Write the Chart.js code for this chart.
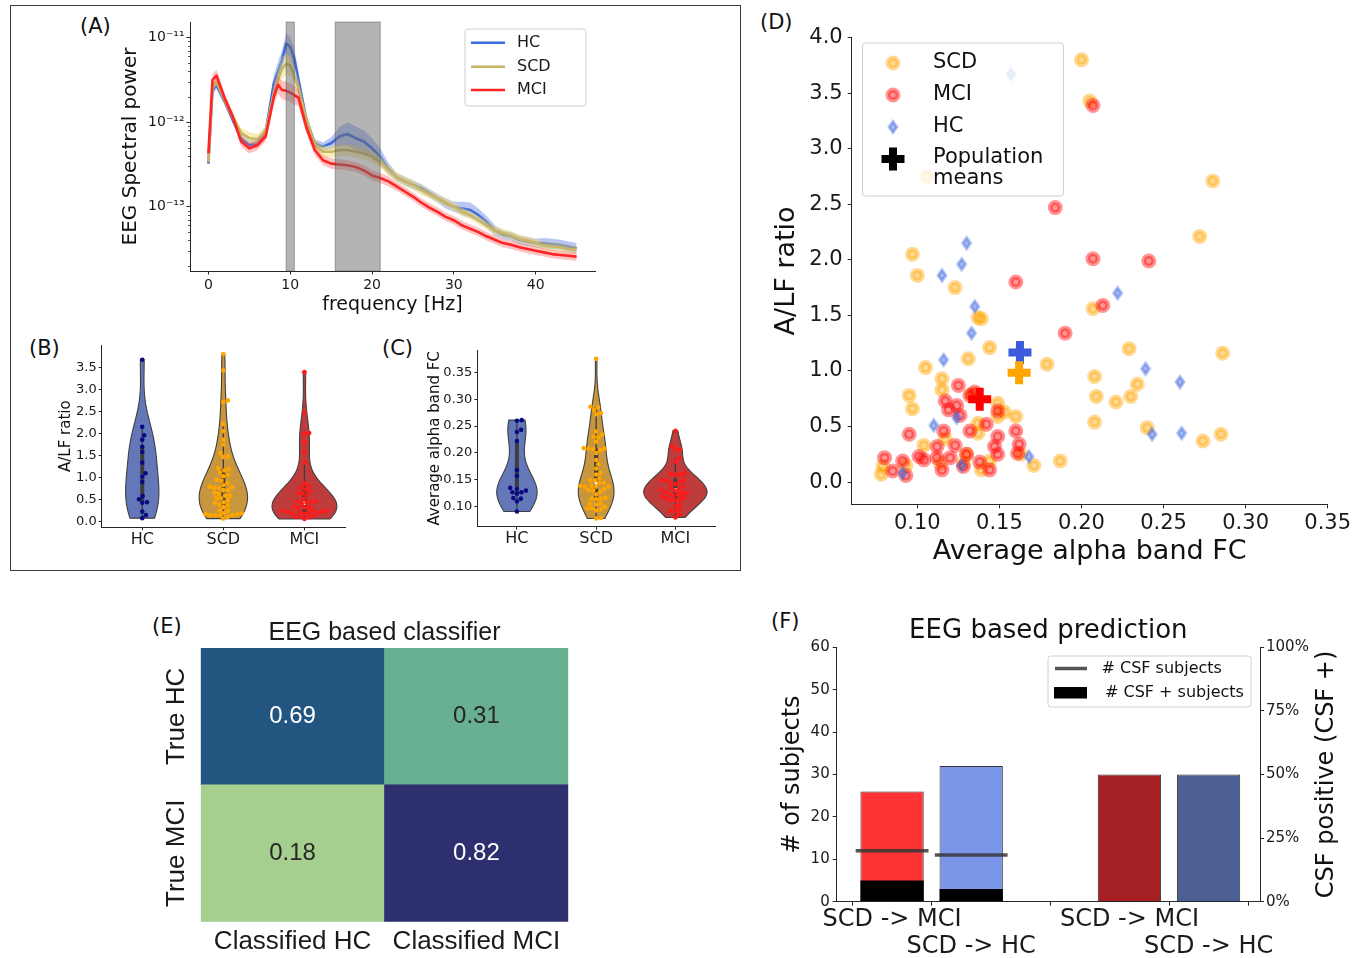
<!DOCTYPE html>
<html lang="en">
<head>
<meta charset="utf-8">
<title>EEG markers: HC / SCD / MCI</title>
<script src="https://cdn.jsdelivr.net/npm/chart.js@4.4.1/dist/chart.umd.min.js"></script>
<style>
  html, body { margin: 0; padding: 0; background: #fff; }
  body { position: relative; width: 1367px; height: 958px; overflow: hidden; font-family: 'DejaVu Sans', sans-serif; }
  canvas { position: absolute; }
  .frame { position: absolute; border: 1px solid #3a3a3a; box-sizing: border-box; }
  .tag { position: absolute; font-size: 21px; line-height: 1; color: #111; }
</style>
</head>
<body>
<div class="frame" style="left:10px; top:5px; width:731px; height:566px"></div>
<div class="tag" style="left:80px; top:16px">(A)</div>
<div class="tag" style="left:29px; top:338px">(B)</div>
<div class="tag" style="left:382px; top:338px">(C)</div>
<div class="tag" style="left:760px; top:12px">(D)</div>
<div class="tag" style="left:152px; top:616px">(E)</div>
<div class="tag" style="left:771px; top:611px">(F)</div>
<canvas id="spectra"></canvas>
<canvas id="ratioViolin"></canvas>
<canvas id="fcViolin"></canvas>
<canvas id="scatter"></canvas>
<canvas id="confusion"></canvas>
<canvas id="prediction"></canvas>
<script>
// ---------- (A) spectral power, log10 values ----------
const freqs = [0, 0.5, 1, 2, 3, 4, 5, 6, 7, 8, 8.5, 9, 9.5, 10, 10.5, 11,
  12, 13, 14, 15, 16, 17, 18, 19, 20, 21, 22, 23, 24, 25, 26, 27, 28, 29, 30,
  31, 32, 33, 34, 35, 36, 37, 38, 39, 40, 41, 42, 43, 44, 45];
const logHC = [-12.49, -11.62, -11.56, -11.76, -11.98, -12.19, -12.27, -12.25, -12.11, -11.54, -11.41, -11.27, -11.07, -11.11, -11.25, -11.50,
  -11.98, -12.25, -12.29, -12.25, -12.17, -12.14, -12.19, -12.23, -12.31, -12.41, -12.55, -12.65, -12.70, -12.74, -12.78, -12.84, -12.90, -12.96, -13.00,
  -13.02, -13.04, -13.10, -13.18, -13.28, -13.33, -13.35, -13.39, -13.41, -13.43, -13.43, -13.44, -13.45, -13.47, -13.49];
const logSCD = [-12.47, -11.58, -11.52, -11.74, -11.94, -12.13, -12.19, -12.20, -12.10, -11.66, -11.50, -11.37, -11.31, -11.33, -11.45, -11.60,
  -11.98, -12.27, -12.35, -12.35, -12.33, -12.33, -12.35, -12.37, -12.41, -12.47, -12.57, -12.65, -12.70, -12.74, -12.80, -12.85, -12.90, -12.95, -13.00,
  -13.06, -13.10, -13.16, -13.22, -13.28, -13.31, -13.34, -13.38, -13.40, -13.43, -13.46, -13.47, -13.48, -13.50, -13.51];
const logMCI = [-12.37, -11.50, -11.45, -11.72, -11.94, -12.23, -12.31, -12.27, -12.17, -11.70, -11.56, -11.62, -11.63, -11.65, -11.68, -11.71,
  -12.07, -12.33, -12.45, -12.49, -12.50, -12.51, -12.53, -12.57, -12.63, -12.66, -12.70, -12.76, -12.82, -12.88, -12.95, -13.01, -13.06, -13.12, -13.16,
  -13.22, -13.26, -13.30, -13.35, -13.39, -13.43, -13.45, -13.48, -13.50, -13.52, -13.54, -13.56, -13.57, -13.58, -13.59];
// half width of the shaded error band, in decades
const bandHC = [0.03, 0.05, 0.05, 0.04, 0.04, 0.05, 0.05, 0.05, 0.06, 0.10, 0.12, 0.12, 0.12, 0.12, 0.12, 0.10,
  0.06, 0.05, 0.05, 0.07, 0.11, 0.14, 0.14, 0.13, 0.12, 0.10, 0.07, 0.05, 0.05, 0.05, 0.05, 0.05, 0.05, 0.06, 0.06,
  0.08, 0.09, 0.08, 0.07, 0.06, 0.05, 0.05, 0.05, 0.05, 0.05, 0.06, 0.06, 0.06, 0.06, 0.06];
const bandSCD = [0.03, 0.05, 0.05, 0.05, 0.05, 0.06, 0.07, 0.06, 0.05, 0.10, 0.12, 0.13, 0.13, 0.12, 0.11, 0.10,
  0.07, 0.07, 0.07, 0.07, 0.07, 0.07, 0.07, 0.07, 0.07, 0.07, 0.06, 0.06, 0.06, 0.06, 0.06, 0.05, 0.05, 0.05, 0.05,
  0.05, 0.05, 0.05, 0.05, 0.05, 0.05, 0.05, 0.05, 0.05, 0.05, 0.05, 0.05, 0.05, 0.05, 0.05];
const bandMCI = [0.03, 0.07, 0.07, 0.06, 0.06, 0.06, 0.06, 0.06, 0.06, 0.09, 0.10, 0.11, 0.11, 0.11, 0.11, 0.10,
  0.07, 0.06, 0.06, 0.06, 0.06, 0.06, 0.06, 0.06, 0.06, 0.06, 0.06, 0.05, 0.05, 0.05, 0.05, 0.05, 0.05, 0.05, 0.05,
  0.05, 0.05, 0.05, 0.05, 0.05, 0.05, 0.05, 0.05, 0.05, 0.05, 0.05, 0.05, 0.05, 0.05, 0.05];
const bandSpans = [[9.5, 10.5], [15.5, 21]];
const freqTicks = [0, 10, 20, 30, 40];
const powerTicks = [1e-13, 1e-12, 1e-11];

// ---------- (B)(C)(D) subjects: alpha band FC and A/LF ratio ----------
const hcFC  = [0.157, 0.130, 0.127, 0.115, 0.222, 0.135, 0.133, 0.116, 0.239, 0.260, 0.110, 0.124, 0.243, 0.261, 0.168, 0.127, 0.091];
const hcALF = [3.67, 2.15, 1.96, 1.86, 1.70, 1.58, 1.34, 1.10, 1.02, 0.90, 0.51, 0.58, 0.43, 0.44, 0.23, 0.15, 0.08];
const scdFC  = [0.200, 0.205, 0.106, 0.280, 0.272, 0.097, 0.100, 0.123, 0.207, 0.137, 0.139, 0.144, 0.229, 0.286, 0.131, 0.179,
  0.105, 0.208, 0.115, 0.234, 0.115, 0.209, 0.230, 0.095, 0.221, 0.133, 0.097, 0.149, 0.153, 0.160, 0.149, 0.208, 0.240,
  0.137, 0.137, 0.285, 0.274, 0.104, 0.117, 0.130, 0.187, 0.171, 0.144, 0.114, 0.078, 0.079, 0.093, 0.139, 0.163, 0.128, 0.375];
const scdALF = [3.80, 3.43, 2.75, 2.71, 2.21, 2.05, 1.86, 1.75, 1.56, 1.48, 1.47, 1.21, 1.20, 1.16, 1.11, 1.06,
  1.03, 0.95, 0.93, 0.88, 0.83, 0.77, 0.77, 0.78, 0.72, 0.79, 0.66, 0.71, 0.63, 0.59, 0.59, 0.54, 0.49,
  0.53, 0.44, 0.43, 0.37, 0.33, 0.39, 0.25, 0.19, 0.15, 0.19, 0.17, 0.07, 0.14, 0.15, 0.11, 0.25, 0.17, 0.15];
const mciFC  = [0.207, 0.184, 0.207, 0.241, 0.160, 0.213, 0.190, 0.125, 0.135, 0.132, 0.117, 0.124, 0.119, 0.149, 0.126,
  0.095, 0.116, 0.132, 0.142, 0.160, 0.149, 0.147, 0.162, 0.123, 0.112, 0.149, 0.161, 0.130, 0.080, 0.091,
  0.101, 0.104, 0.112, 0.120, 0.138, 0.085, 0.093, 0.115, 0.128, 0.144];
const mciALF = [3.39, 2.47, 2.01, 1.99, 1.80, 1.59, 1.34, 0.87, 0.81, 0.78, 0.73, 0.69, 0.65, 0.64, 0.60,
  0.43, 0.46, 0.46, 0.52, 0.46, 0.41, 0.32, 0.34, 0.33, 0.32, 0.25, 0.26, 0.25, 0.22, 0.19,
  0.23, 0.20, 0.22, 0.22, 0.18, 0.10, 0.06, 0.11, 0.14, 0.11];
const meanFC  = [0.1625, 0.162, 0.138];   // HC, SCD, MCI
const meanALF = [1.167, 0.983, 0.745];
const groupNames = ['HC', 'SCD', 'MCI'];
const ratioTicks = [0, 0.5, 1, 1.5, 2, 2.5, 3, 3.5];
const fcTicks = [0.10, 0.15, 0.20, 0.25, 0.30, 0.35];
const scatterYTicks = [0, 0.5, 1, 1.5, 2, 2.5, 3, 3.5, 4];

// ---------- (E) confusion matrix ----------
const cmCols = ['Classified HC', 'Classified MCI'];
const cmRows = ['True HC', 'True MCI'];
const cmTrueHC = [0.69, 0.31];
const cmTrueMCI = [0.18, 0.82];

// ---------- (F) prediction ----------
const predLabels = ['SCD -> MCI', 'SCD -> HC'];
const predX = [0, 1];
const predCounts = [26, 32];
const csfCounts = [12, 11];
const csfPosCounts = [5, 3];
const pctX = [3, 4];
const csfPosPercent = [50, 50];
const countTicks = [0, 10, 20, 30, 40, 50, 60];
const pctTicks = [0, 25, 50, 75, 100];

// ---------- shared look ----------
Chart.defaults.font.family = "'DejaVu Sans', sans-serif";
Chart.defaults.color = '#1a1a1a';
Chart.defaults.animation = false;
Chart.defaults.responsive = false;
Chart.defaults.events = [];
Chart.defaults.layout.autoPadding = false;
Chart.defaults.plugins.legend.display = false;
Chart.defaults.plugins.tooltip.enabled = false;

const ink = '#262626';
const spine = { display: true, color: ink, width: 1 };
const tickGrid = len => ({ display: true, drawOnChartArea: false, drawTicks: true, tickLength: len, color: ink });
const fixedTicks = values => s => { s.ticks = values.map(v => ({ value: v })); };
const pairs = (xs, ys) => xs.map((x, i) => ({ x, y: ys[i] }));

function makeCanvas(id, b) {
  const c = document.getElementById(id);
  c.width = b.w; c.height = b.h;
  c.style.left = b.x + 'px'; c.style.top = b.y + 'px';
  return c;
}

function legendFrame(ctx, x0, y0, x1, y1) {
  ctx.beginPath();
  ctx.roundRect(x0, y0, x1 - x0, y1 - y0, 3);
  ctx.fillStyle = 'rgba(255,255,255,0.8)';
  ctx.fill();
  ctx.lineWidth = 1;
  ctx.strokeStyle = '#cfcfcf';
  ctx.stroke();
}

const panels = {
  A: { x: 115, y: 10, w: 505, h: 310 },
  B: { x: 53, y: 335, w: 302, h: 220 },
  C: { x: 422, y: 335, w: 303, h: 220 },
  D: { x: 767, y: 20, w: 595, h: 552 },
  E: { x: 140, y: 616, w: 440, h: 344 },
  F: { x: 774, y: 616, w: 588, h: 346 }
};

// ---------- (A) ----------
const lineHC = '#3d6ae0', lineSCD = '#c9b563', lineMCI = '#ff2525';
function spectrumSets(name, vals, band, line, fill) {
  return [
    { label: name, data: freqs.map((f, i) => ({ x: f, y: 10 ** vals[i] })), showLine: true,
      borderColor: line, borderWidth: 2.6, borderJoinStyle: 'round', pointRadius: 0, fill: false },
    { label: name + ' upper', data: freqs.map((f, i) => ({ x: f, y: 10 ** (vals[i] + band[i]) })), showLine: true,
      borderColor: 'rgba(0,0,0,0)', borderWidth: 0, pointRadius: 0, backgroundColor: fill, fill: '+1' },
    { label: name + ' lower', data: freqs.map((f, i) => ({ x: f, y: 10 ** (vals[i] - band[i]) })), showLine: true,
      borderColor: 'rgba(0,0,0,0)', borderWidth: 0, pointRadius: 0, fill: false }
  ];
}
const supDigits = { '-': '\u207B', '0': '\u2070', '1': '\u00B9', '2': '\u00B2', '3': '\u00B3', '4': '\u2074',
  '5': '\u2075', '6': '\u2076', '7': '\u2077', '8': '\u2078', '9': '\u2079' };
const powLabel = v => '10' + String(Math.round(Math.log10(v))).split('').map(c => supDigits[c]).join('');

const spectraExtras = {
  id: 'spectraExtras',
  afterDatasetsDraw(chart) {
    const { ctx, chartArea: a, scales: { x } } = chart;
    ctx.save();
    bandSpans.forEach(([f0, f1]) => {
      const x0 = x.getPixelForValue(f0), x1 = x.getPixelForValue(f1);
      ctx.fillStyle = 'rgba(105,105,105,0.5)';
      ctx.fillRect(x0, a.top, x1 - x0, a.bottom - a.top);
      ctx.strokeStyle = 'rgba(70,70,70,0.45)';
      ctx.lineWidth = 1;
      ctx.strokeRect(x0, a.top, x1 - x0, a.bottom - a.top);
    });
    ctx.restore();
  },
  afterDraw(chart) {
    const { ctx, scales: { y } } = chart;
    ctx.save();
    // minor log ticks
    ctx.beginPath();
    for (let e = -14; e <= -11; e++) {
      for (let k = 2; k <= 9; k++) {
        const v = k * 10 ** e;
        if (v < y.min || v > y.max) continue;
        const py = Math.round(y.getPixelForValue(v)) + 0.5;
        ctx.moveTo(y.right - 2, py); ctx.lineTo(y.right, py);
      }
    }
    ctx.strokeStyle = ink; ctx.lineWidth = 0.8; ctx.stroke();
    // legend (page coordinates)
    ctx.translate(-panels.A.x, -panels.A.y);
    legendFrame(ctx, 465, 29, 586, 106);
    [['HC', lineHC, 42.7], ['SCD', lineSCD, 66.7], ['MCI', lineMCI, 90]].forEach(([t, c, yy]) => {
      ctx.beginPath(); ctx.moveTo(471, yy); ctx.lineTo(505, yy);
      ctx.strokeStyle = c; ctx.lineWidth = 2.6; ctx.stroke();
      ctx.fillStyle = '#1a1a1a'; ctx.font = "16px 'DejaVu Sans'"; ctx.textBaseline = 'middle';
      ctx.fillText(t, 517, yy);
    });
    ctx.restore();
  }
};

new Chart(makeCanvas('spectra', panels.A), {
  type: 'scatter',
  data: {
    datasets: [
      ...spectrumSets('MCI', logMCI, bandMCI, lineMCI, 'rgba(255,70,70,0.33)'),
      ...spectrumSets('SCD', logSCD, bandSCD, lineSCD, 'rgba(238,214,100,0.45)'),
      ...spectrumSets('HC', logHC, bandHC, lineHC, 'rgba(65,105,225,0.38)')
    ]
  },
  options: {
    layout: { padding: { top: 12, right: 25, left: 0, bottom: 0 } },
    scales: {
      x: { type: 'linear', min: -2.25, max: 47.25, border: spine, grid: tickGrid(3.5),
        afterBuildTicks: fixedTicks(freqTicks), afterFit: s => { s.height = 49; },
        ticks: { font: { size: 14 }, padding: 2, maxRotation: 0, autoSkip: false },
        title: { display: true, text: 'frequency [Hz]', font: { size: 19 }, color: '#111', padding: { top: 0, bottom: 4 } } },
      y: { type: 'logarithmic', min: 10 ** -13.76, max: 10 ** -10.816, border: spine, grid: tickGrid(3.5),
        afterBuildTicks: fixedTicks(powerTicks), afterFit: s => { s.width = 75; },
        ticks: { font: { size: 14 }, padding: 2, callback: v => powLabel(v) },
        title: { display: true, text: 'EEG Spectral power', font: { size: 20 }, color: '#111', padding: { top: 4, bottom: 0 } } }
    }
  },
  plugins: [spectraExtras]
});

// ---------- (B)(C) violins with swarm ----------
const violinFill = ['#6478b9', '#c8963c', '#be3c3c'];
const swarmColor = ['#0a0a80', '#ffa500', '#ff1a1a'];

function kde(vals, n) {
  const m = vals.length, mean = vals.reduce((a, b) => a + b, 0) / m;
  const sd = Math.sqrt(vals.reduce((a, b) => a + (b - mean) ** 2, 0) / (m - 1));
  const bw = sd * Math.pow(m, -0.2);
  const lo = Math.min(...vals), hi = Math.max(...vals);
  const out = [];
  for (let i = 0; i < n; i++) {
    const v = lo + (hi - lo) * i / (n - 1);
    let s = 0;
    for (const u of vals) { const z = (v - u) / bw; s += Math.exp(-0.5 * z * z); }
    out.push([v, s / (m * bw * Math.sqrt(2 * Math.PI))]);
  }
  return out;
}
function quantile(sorted, q) {
  const p = (sorted.length - 1) * q, i = Math.floor(p);
  return i + 1 < sorted.length ? sorted[i] + (sorted[i + 1] - sorted[i]) * (p - i) : sorted[i];
}
function beeswarm(elements, cx, d) {
  const items = elements.map(el => ({ el, y: el.y, dx: 0 })).sort((a, b) => b.y - a.y);
  const placed = [];
  for (const p of items) {
    const near = placed.filter(q => Math.abs(q.y - p.y) < d);
    const cands = [0];
    near.forEach(q => { const h = Math.sqrt(d * d - (q.y - p.y) ** 2); cands.push(q.dx + h, q.dx - h); });
    cands.sort((a, b) => Math.abs(a) - Math.abs(b));
    const ok = cands.find(c => near.every(q => (q.dx - c) ** 2 + (q.y - p.y) ** 2 >= d * d - 0.01));
    p.dx = ok === undefined ? 0 : ok;
    placed.push(p);
    p.el.x = cx + p.dx;
  }
}

const violinPlugin = {
  id: 'violins',
  beforeDatasetsDraw(chart) {
    const { ctx, scales: { x, y } } = chart;
    const sets = chart.data.datasets;
    const dens = sets.map(ds => kde(ds.data.map(p => p.y), 120));
    const peak = Math.max(...dens.flatMap(d => d.map(p => p[1])));
    ctx.save();
    dens.forEach((d, g) => {
      ctx.beginPath();
      d.forEach(([v, p], i) => {
        const px = x.getPixelForValue(g + 0.4 * p / peak), py = y.getPixelForValue(v);
        if (i) ctx.lineTo(px, py); else ctx.moveTo(px, py);
      });
      for (let i = d.length - 1; i >= 0; i--) {
        ctx.lineTo(x.getPixelForValue(g - 0.4 * d[i][1] / peak), y.getPixelForValue(d[i][0]));
      }
      ctx.closePath();
      ctx.fillStyle = violinFill[g]; ctx.fill();
      ctx.strokeStyle = '#404040'; ctx.lineWidth = 1.1; ctx.stroke();

      const s = sets[g].data.map(p => p.y).sort((a, b) => a - b);
      const q1 = quantile(s, 0.25), med = quantile(s, 0.5), q3 = quantile(s, 0.75), iqr = q3 - q1;
      const wLo = s.find(v => v >= q1 - 1.5 * iqr), wHi = [...s].reverse().find(v => v <= q3 + 1.5 * iqr);
      const cx = x.getPixelForValue(g);
      ctx.strokeStyle = '#3d3d3d';
      ctx.lineWidth = 1.3;
      ctx.beginPath(); ctx.moveTo(cx, y.getPixelForValue(wLo)); ctx.lineTo(cx, y.getPixelForValue(wHi)); ctx.stroke();
      ctx.lineWidth = 4;
      ctx.beginPath(); ctx.moveTo(cx, y.getPixelForValue(q1)); ctx.lineTo(cx, y.getPixelForValue(q3)); ctx.stroke();
      ctx.beginPath(); ctx.arc(cx, y.getPixelForValue(med), 2, 0, Math.PI * 2);
      ctx.fillStyle = '#fff'; ctx.fill();

      beeswarm(chart.getDatasetMeta(g).data, cx, 4.8);
    });
    ctx.restore();
  }
};

function violinChart(id, box, series, yMin, yMax, ticks, digits, title, dims) {
  return new Chart(makeCanvas(id, box), {
    type: 'scatter',
    data: {
      datasets: series.map((vals, g) => ({
        label: groupNames[g], data: vals.map(v => ({ x: g, y: v })),
        pointRadius: 2.3, borderWidth: 0, backgroundColor: swarmColor[g]
      }))
    },
    options: {
      layout: { padding: { top: dims.top, right: dims.right, left: 0, bottom: 0 } },
      scales: {
        x: { type: 'linear', min: -0.5, max: 2.5, border: spine, grid: tickGrid(3),
          afterBuildTicks: fixedTicks([0, 1, 2]), afterFit: s => { s.height = dims.xh; },
          ticks: { font: { size: 16 }, padding: 0, maxRotation: 0, autoSkip: false, callback: v => groupNames[v] } },
        y: { type: 'linear', min: yMin, max: yMax, border: spine, grid: tickGrid(3),
          afterBuildTicks: fixedTicks(ticks), afterFit: s => { s.width = dims.yw; },
          ticks: { font: { size: 13 }, padding: 2, callback: v => v.toFixed(digits) },
          title: { display: true, text: title, font: { size: 15 }, color: '#111', padding: { top: 4, bottom: 0 } } }
      }
    },
    plugins: [violinPlugin]
  });
}

violinChart('ratioViolin', panels.B, [hcALF, scdALF, mciALF], -0.127, 4.006, ratioTicks, 1, 'A/LF ratio',
  { top: 10, right: 10, xh: 27.7, yw: 48.7 });
violinChart('fcViolin', panels.C, [hcFC, scdFC, mciFC], 0.0628, 0.3915, fcTicks, 2, 'Average alpha band FC',
  { top: 15, right: 10, xh: 28.3, yw: 55.3 });

// ---------- (D) scatter ----------
const scdDot = 'rgba(255,165,0,0.42)', mciDot = 'rgba(255,0,0,0.42)', hcDot = 'rgba(65,105,225,0.45)';
const meanColors = ['#3b5bdb', '#ffa500', '#ff0000'];
function diamondMarker(color) {
  const c = document.createElement('canvas');
  c.width = 16; c.height = 22;
  const g = c.getContext('2d');
  g.beginPath();
  g.moveTo(8, 5.6); g.lineTo(11.8, 11); g.lineTo(8, 16.4); g.lineTo(4.2, 11); g.closePath();
  g.fillStyle = color; g.fill();
  g.lineWidth = 3; g.strokeStyle = color; g.stroke();
  return c;
}
const hcDiamond = diamondMarker(hcDot);
function dotMark(ctx, x, y, color) {
  ctx.beginPath(); ctx.arc(x, y, 5, 0, Math.PI * 2);
  ctx.fillStyle = color; ctx.fill();
  ctx.lineWidth = 5; ctx.strokeStyle = color; ctx.stroke();
}
function plusMark(ctx, x, y, color) {
  ctx.beginPath();
  ctx.moveTo(x - 11.5, y); ctx.lineTo(x + 11.5, y);
  ctx.moveTo(x, y - 11.5); ctx.lineTo(x, y + 11.5);
  ctx.lineWidth = 8; ctx.lineCap = 'butt'; ctx.strokeStyle = color; ctx.stroke();
}
const scatterLegend = {
  id: 'scatterLegend',
  afterDraw(chart) {
    const ctx = chart.ctx;
    ctx.save();
    ctx.translate(-panels.D.x, -panels.D.y);
    legendFrame(ctx, 862.5, 43, 1063.5, 196);
    dotMark(ctx, 893, 63, scdDot);
    dotMark(ctx, 893, 95, mciDot);
    ctx.drawImage(hcDiamond, 893 - 8, 127 - 11);
    plusMark(ctx, 893, 159, '#000');
    ctx.fillStyle = '#111'; ctx.font = "21px 'DejaVu Sans'"; ctx.textBaseline = 'middle';
    ctx.fillText('SCD', 933, 63);
    ctx.fillText('MCI', 933, 95);
    ctx.fillText('HC', 933, 127);
    ctx.fillText('Population', 933, 158);
    ctx.fillText('means', 933, 179);
    ctx.restore();
  }
};

new Chart(makeCanvas('scatter', panels.D), {
  type: 'scatter',
  data: {
    datasets: [
      { label: 'Population means', data: pairs(meanFC, meanALF), pointStyle: 'cross', pointRadius: 11.5,
        borderWidth: 8, borderColor: meanColors, backgroundColor: meanColors },
      { label: 'HC', data: pairs(hcFC, hcALF), pointStyle: hcDiamond, pointRadius: 8 },
      { label: 'MCI', data: pairs(mciFC, mciALF), pointRadius: 5, borderWidth: 5, backgroundColor: mciDot, borderColor: mciDot },
      { label: 'SCD', data: pairs(scdFC, scdALF), pointRadius: 5, borderWidth: 5, backgroundColor: scdDot, borderColor: scdDot }
    ]
  },
  options: {
    layout: { padding: { top: 12, right: 34.3, left: 0, bottom: 0 } },
    scales: {
      x: { type: 'linear', min: 0.06, max: 0.35, border: spine, grid: tickGrid(4),
        afterBuildTicks: fixedTicks(fcTicks), afterFit: s => { s.height = 67.7; },
        ticks: { font: { size: 21 }, padding: 3, maxRotation: 0, autoSkip: false, callback: v => v.toFixed(2) },
        title: { display: true, text: 'Average alpha band FC', font: { size: 27 }, color: '#111', padding: { top: 0, bottom: 4 } } },
      y: { type: 'linear', min: -0.2, max: 4.0, border: spine, grid: tickGrid(4),
        afterBuildTicks: fixedTicks(scatterYTicks), afterFit: s => { s.width = 84.7; },
        ticks: { font: { size: 21 }, padding: 5, callback: v => v.toFixed(1) },
        title: { display: true, text: 'A/LF ratio', font: { size: 27 }, color: '#111', padding: { top: 4, bottom: 0 } } }
    }
  },
  plugins: [scatterLegend]
});

// ---------- (E) confusion matrix ----------
const crestStops = [[0, [166, 207, 143]], [0.2, [106, 175, 145]], [0.5, [44, 128, 140]], [0.8, [34, 86, 128]], [1, [45, 47, 111]]];
const cmAll = [...cmTrueHC, ...cmTrueMCI];
function crestRGB(v) {
  const lo = Math.min(...cmAll), hi = Math.max(...cmAll), t = (v - lo) / (hi - lo);
  for (let i = 1; i < crestStops.length; i++) {
    const [t0, c0] = crestStops[i - 1], [t1, c1] = crestStops[i];
    if (t <= t1 + 1e-9) {
      const f = (t - t0) / (t1 - t0);
      return c0.map((c, k) => Math.round(c + (c1[k] - c) * f));
    }
  }
  return crestStops[crestStops.length - 1][1];
}
const crest = v => 'rgb(' + crestRGB(v).join(',') + ')';
const cellText = v => {
  const [r, g, b] = crestRGB(v);
  return (0.2126 * r + 0.7152 * g + 0.0722 * b) / 255 > 0.55 ? '#262626' : '#ffffff';
};
const cellLabels = {
  id: 'cellLabels',
  afterDatasetsDraw(chart) {
    const ctx = chart.ctx;
    ctx.save();
    ctx.font = "24px 'Liberation Sans', Arial, sans-serif";
    ctx.textAlign = 'center'; ctx.textBaseline = 'middle';
    chart.data.datasets.forEach((ds, i) => {
      chart.getDatasetMeta(i).data.forEach((bar, j) => {
        ctx.fillStyle = cellText(ds.cellValues[j]);
        ctx.fillText(ds.cellValues[j].toFixed(2), bar.x, (bar.y + bar.base) / 2);
      });
    });
    const y = chart.scales.y;
    ctx.fillStyle = '#1a1a1a';
    ctx.font = "26px 'Liberation Sans', Arial, sans-serif";
    [[cmRows[0], 1.5], [cmRows[1], 0.5]].forEach(([t, v]) => {
      ctx.save();
      ctx.translate(176.7 - panels.E.x, y.getPixelForValue(v));
      ctx.rotate(-Math.PI / 2);
      ctx.fillText(t, 0, 0);
      ctx.restore();
    });
    ctx.restore();
  }
};

new Chart(makeCanvas('confusion', panels.E), {
  type: 'bar',
  data: {
    labels: cmCols,
    datasets: [
      { label: cmRows[1], data: [1, 1], cellValues: cmTrueMCI, backgroundColor: cmTrueMCI.map(crest) },
      { label: cmRows[0], data: [1, 1], cellValues: cmTrueHC, backgroundColor: cmTrueHC.map(crest) }
    ]
  },
  options: {
    layout: { padding: { top: 0, right: 11.7, left: 60.7, bottom: 0 } },
    datasets: { bar: { barPercentage: 1, categoryPercentage: 1, borderWidth: 0 } },
    plugins: {
      title: { display: true, text: 'EEG based classifier', fullSize: false, color: '#1a1a1a',
        font: { family: "'Liberation Sans', Arial, sans-serif", size: 25, weight: 'normal', lineHeight: 1.2 },
        padding: { top: 2, bottom: 0 } }
    },
    scales: {
      x: { stacked: true, grid: { display: false, drawTicks: false }, border: { display: false },
        afterFit: s => { s.height = 38.3; },
        ticks: { font: { family: "'Liberation Sans', Arial, sans-serif", size: 26 }, padding: 4.4, maxRotation: 0, autoSkip: false } },
      y: { stacked: true, display: false, min: 0, max: 2 }
    }
  },
  plugins: [cellLabels]
});

// ---------- (F) prediction ----------
const predColors = ['#ff3333', '#7b96e8'];
const pctColors = ['#a52023', '#4d6096'];
const xTickText = {};
predX.forEach((x, i) => { xTickText[x] = i === 0 ? predLabels[i] : ['', predLabels[i]]; });
pctX.forEach((x, i) => { xTickText[x] = i === 0 ? predLabels[i] : ['', predLabels[i]]; });

const predictionExtras = {
  id: 'predictionExtras',
  afterDraw(chart) {
    const { ctx, chartArea: a } = chart;
    ctx.save();
    ctx.fillStyle = '#111'; ctx.font = "24px 'DejaVu Sans'";
    ctx.textAlign = 'center'; ctx.textBaseline = 'middle';
    ctx.translate(1327 - panels.F.x, (a.top + a.bottom) / 2);
    ctx.rotate(-Math.PI / 2);
    ctx.fillText('CSF positive (CSF +)', 0, 0);
    ctx.restore();

    ctx.save();
    ctx.translate(-panels.F.x, -panels.F.y);
    legendFrame(ctx, 1048, 656, 1251, 707);
    ctx.beginPath(); ctx.moveTo(1055, 668.5); ctx.lineTo(1087, 668.5);
    ctx.strokeStyle = 'rgba(55,55,55,0.85)'; ctx.lineWidth = 3.5; ctx.stroke();
    ctx.fillStyle = '#000'; ctx.fillRect(1054, 687, 33, 11.5);
    ctx.fillStyle = '#111'; ctx.font = "16px 'DejaVu Sans'"; ctx.textBaseline = 'middle';
    ctx.fillText('# CSF subjects', 1101.5, 669);
    ctx.fillText('# CSF + subjects', 1105, 693);
    ctx.restore();
  }
};

new Chart(makeCanvas('prediction', panels.F), {
  type: 'bar',
  data: {
    datasets: [
      ...csfCounts.map((c, i) => ({ type: 'line', label: '# CSF subjects',
        data: [{ x: predX[i] - 0.46, y: c }, { x: predX[i] + 0.46, y: c }],
        borderColor: 'rgba(55,55,55,0.85)', borderWidth: 3.5, pointRadius: 0, yAxisID: 'y' })),
      { label: '# CSF + subjects', data: pairs(predX, csfPosCounts), backgroundColor: '#000', borderWidth: 0, grouped: false },
      { label: '# of subjects', data: pairs(predX, predCounts), backgroundColor: predColors,
        borderColor: '#333', borderWidth: 1, grouped: false },
      { label: 'CSF positive', data: pairs(pctX, csfPosPercent), backgroundColor: pctColors,
        borderColor: '#333', borderWidth: 1, grouped: false, yAxisID: 'y1' }
    ]
  },
  options: {
    layout: { padding: { top: 0, right: 22, left: 0, bottom: 0 } },
    datasets: { bar: { barPercentage: 0.8, categoryPercentage: 1 } },
    plugins: {
      title: { display: true, text: 'EEG based prediction', fullSize: false, color: '#111',
        font: { size: 26, weight: 'normal', lineHeight: 1.2 }, padding: { top: 0, bottom: 0 } }
    },
    scales: {
      x: { type: 'linear', min: -0.7, max: 4.65, offset: false, border: spine, grid: tickGrid(4),
        afterBuildTicks: fixedTicks([...predX, ...pctX]), afterFit: s => { s.height = 60.3; },
        ticks: { font: { size: 24, lineHeight: 1.15 }, padding: 0, maxRotation: 0, autoSkip: false,
          callback: v => xTickText[v] } },
      y: { type: 'linear', position: 'left', min: 0, max: 60, border: spine, grid: tickGrid(4),
        afterBuildTicks: fixedTicks(countTicks), afterFit: s => { s.width = 62.7; },
        ticks: { font: { size: 15 }, padding: 3 },
        title: { display: true, text: '# of subjects', font: { size: 24 }, color: '#111', padding: { top: 4, bottom: 0 } } },
      y1: { type: 'linear', position: 'right', min: 0, max: 100, border: spine, grid: tickGrid(4),
        afterBuildTicks: fixedTicks(pctTicks), afterFit: s => { s.width = 80; },
        ticks: { font: { size: 15 }, padding: 2, callback: v => v + '%' } }
    }
  },
  plugins: [predictionExtras]
});
</script>
</body>
</html>
